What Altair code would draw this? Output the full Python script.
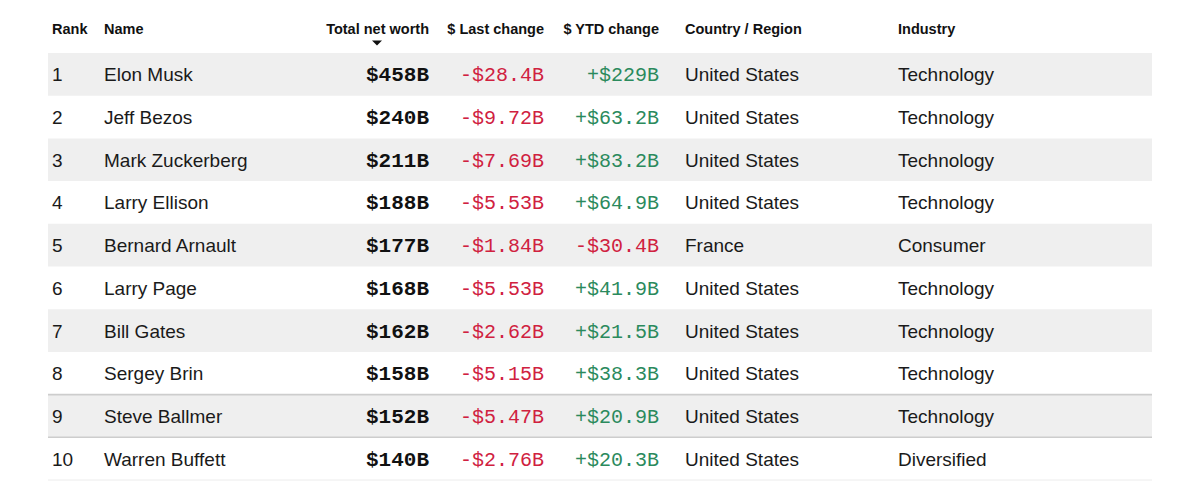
import altair as alt
import pandas as pd

# ---- data ----
ranks = [1, 2, 3, 4, 5, 6, 7, 8, 9, 10]
names = ["Elon Musk", "Jeff Bezos", "Mark Zuckerberg", "Larry Ellison", "Bernard Arnault",
         "Larry Page", "Bill Gates", "Sergey Brin", "Steve Ballmer", "Warren Buffett"]
net_worth = [458, 240, 211, 188, 177, 168, 162, 158, 152, 140]
last_change = [-28.4, -9.72, -7.69, -5.53, -1.84, -5.53, -2.62, -5.15, -5.47, -2.76]
ytd_change = [229, 63.2, 83.2, 64.9, -30.4, 41.9, 21.5, 38.3, 20.9, 20.3]
countries = ["United States", "United States", "United States", "United States", "France",
             "United States", "United States", "United States", "United States", "United States"]
industries = ["Technology", "Technology", "Technology", "Technology", "Consumer",
              "Technology", "Technology", "Technology", "Technology", "Diversified"]
headers = ["Rank", "Name", "Total net worth", "$ Last change", "$ YTD change",
           "Country / Region", "Industry"]
highlighted_rank = [9]

# ---- layout / style ----
W, H = 1184, 473
col_x = [44, 96, 421, 536, 651, 677, 890]
col_align = ["left", "left", "right", "right", "right", "left", "left"]
header_y = 22
row_range = [45, 472]
band_x = (40, 1144)
SANS = "Liberation Sans"
MONO = "Liberation Mono"
RED = "#d0213f"
GREEN = "#2b8a5d"
TXT = "#1a1a1a"


def money(v):
    return f"${abs(v):.3g}B"


def signed(v):
    return ("-" if v < 0 else "+") + money(v)


df = pd.DataFrame({
    "rank": ranks,
    "name": names,
    "worth": [money(v) for v in net_worth],
    "last": [signed(v) for v in last_change],
    "last_sign": ["neg" if v < 0 else "pos" for v in last_change],
    "ytd": [signed(v) for v in ytd_change],
    "ytd_sign": ["neg" if v < 0 else "pos" for v in ytd_change],
    "country": countries,
    "industry": industries,
})
df["rank_s"] = df["rank"].astype(str)
df["odd"] = df["rank"] % 2 == 1
df["hl"] = df["rank"].isin(highlighted_rank)

yscale = alt.Scale(domain=[str(r) for r in ranks], range=row_range,
                   paddingInner=0, paddingOuter=0)
Y = alt.Y("rank_s:O", scale=yscale, axis=None)
sign_color = alt.Scale(domain=["neg", "pos"], range=[RED, GREEN])

base = alt.Chart(df)

shade = base.transform_filter("datum.odd").mark_rect(color="#efefef").encode(
    y=Y, x=alt.value(band_x[0]), x2=alt.value(band_x[1]))

hl_top = base.transform_filter("datum.hl").mark_rule(color="#cdcdcd", strokeWidth=1.6).encode(
    y=alt.Y("rank_s:O", scale=yscale, axis=None, bandPosition=0),
    x=alt.value(band_x[0]), x2=alt.value(band_x[1]))
hl_bot = base.transform_filter("datum.hl").mark_rule(color="#cdcdcd", strokeWidth=1.6).encode(
    y=alt.Y("rank_s:O", scale=yscale, axis=None, bandPosition=1),
    x=alt.value(band_x[0]), x2=alt.value(band_x[1]))
last_line = base.transform_filter(f"datum.rank == {ranks[-1]}").mark_rule(
    color="#ececec", strokeWidth=1).encode(
    y=alt.Y("rank_s:O", scale=yscale, axis=None, bandPosition=1),
    x=alt.value(band_x[0]), x2=alt.value(band_x[1]))

fields = ["rank_s", "name", "worth", "last", "ytd", "country", "industry"]
layers = [shade, hl_top, hl_bot, last_line]
for i, f in enumerate(fields):
    if f == "worth":
        mk = base.mark_text(align="right", baseline="middle", font=MONO, fontSize=21,
                            fontWeight="bold", color="#111111", dy=1)
        enc = dict(text=f"{f}:N")
    elif f in ("last", "ytd"):
        mk = base.mark_text(align="right", baseline="middle", font=MONO, fontSize=20, dy=1)
        enc = dict(text=f"{f}:N",
                   color=alt.Color(f"{f}_sign:N", scale=sign_color, legend=None))
    else:
        mk = base.mark_text(align=col_align[i], baseline="middle", font=SANS,
                            fontSize=19, color=TXT, dy=1)
        enc = dict(text=f"{f}:N")
    layers.append(mk.encode(y=Y, x=alt.value(col_x[i]), **enc))

hdf = pd.DataFrame({"h": headers})
for i, h in enumerate(headers):
    layers.append(
        alt.Chart(hdf).transform_filter(alt.datum.h == h).mark_text(
            align=col_align[i], baseline="middle", font=SANS, fontSize=14.5,
            fontWeight="bold", color="#111111").encode(
            text="h:N", x=alt.value(col_x[i]), y=alt.value(header_y)))

# sort indicator under "Total net worth"
layers.append(
    alt.Chart(hdf).transform_filter(alt.datum.h == headers[2]).mark_point(
        shape="M-1,-0.5L1,-0.5L0,0.5Z", filled=True, color="#111111", opacity=1,
        size=100).encode(x=alt.value(369), y=alt.value(35)))

chart = alt.layer(*layers).properties(
    width=W, height=H, autosize=alt.AutoSizeParams(type="none"), padding=0,
    background="white"
).configure_view(stroke=None)

chart.save("out.html", embed_options={"renderer": "svg", "actions": False})
